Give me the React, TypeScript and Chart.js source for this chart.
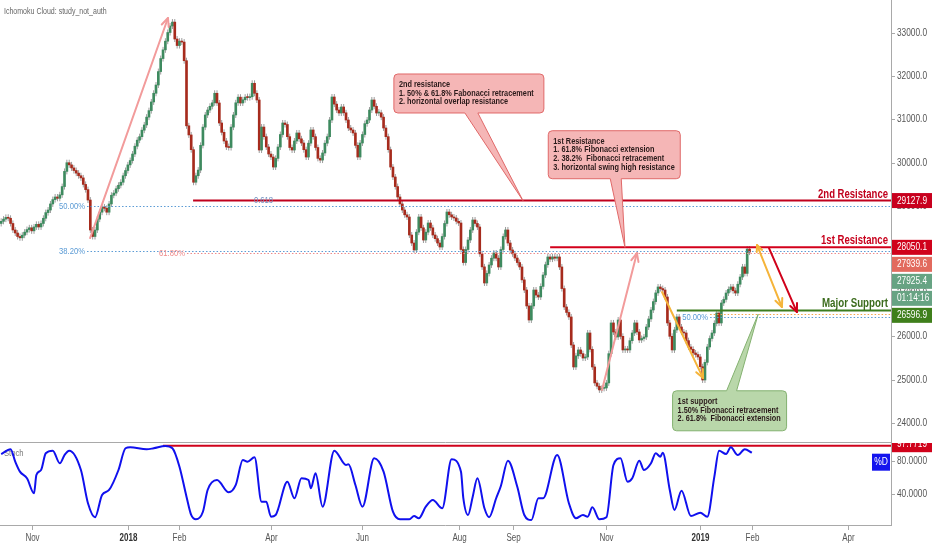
import React, { useEffect, useRef } from 'react';
import { Chart, registerables } from 'chart.js';

Chart.register(...registerables);

// ---------- data ----------
const firstOpen = 28600;
const closes = [
  28650, 28700, 28740, 28720, 28600, 28450, 28380, 28300, 28270, 28330,
  28400, 28460, 28500, 28430, 28520, 28580, 28520, 28600, 28720, 28850,
  28910, 29050, 29150, 29210, 29180, 29260, 29450, 29800, 30000, 29950,
  29880, 29820, 29760, 29700, 29650, 29500, 29380, 29140, 28450, 28300,
  28450, 28700, 28860, 28980, 28950, 28860, 29050, 29250, 29300, 29400,
  29480, 29550, 29700, 29820, 29950, 30050, 30200, 30380, 30520, 30600,
  30750, 30870, 31050, 31200, 31400, 31600, 31790, 32100, 32400, 32600,
  32800, 33000, 33150, 33240, 32850, 32700, 32800, 32780, 32350, 30850,
  30640, 30300, 29550, 29700, 29830, 30400, 30820, 31100, 31214, 31300,
  31380, 31600, 31376, 30915, 30700, 30500, 30362, 30350, 30820, 31100,
  31380, 31510, 31376, 31450, 31510, 31500, 31520, 31830, 31600, 31445,
  30293, 30822, 30600, 30362, 30200, 30131, 29901, 30100, 30362, 30650,
  30915, 30880, 30600, 30350, 30293, 30500, 30685, 30550, 30454, 30300,
  30131, 30450, 30754, 30600, 30350, 30100, 30061, 30224, 30450, 30600,
  30984, 31514, 31350, 31214, 31145, 31284, 31150, 30984, 30800, 30754,
  30685, 30400, 30131, 30454, 30650, 30900, 30984, 31214, 31445, 31300,
  31145, 31150, 31050, 30800, 30600, 30300, 29900, 29671, 29450, 29210,
  29050, 28910, 28800, 28749, 28334, 28150, 27989, 28400, 28749, 28500,
  28219, 28400, 28611, 28500, 28334, 28250, 28150, 28058, 28300, 28600,
  28864, 28800, 28750, 28726, 28650, 28611, 28000, 27700, 28000, 28219,
  28450, 28680, 28600, 28519, 27900, 27600, 27229, 27450, 27644, 27800,
  27920, 27800, 27598, 28000, 28300, 28450, 28150, 27989, 27900, 27804,
  27700, 27598, 27300, 27067, 26700, 26376, 26700, 27067, 26950, 26906,
  27150, 27413, 27650, 27828, 27780, 27828, 27800, 27828, 27598, 27100,
  26676, 26550, 26446, 25800, 25294, 25550, 25686, 25600, 25500, 25524,
  26077, 25700, 25294, 24926, 24850, 24765, 24800, 24811, 24926, 25600,
  26308, 26100, 25985, 26376, 26000, 25686, 25700, 25686, 25900, 26077,
  26308, 26100, 25916, 25950, 25985, 26215, 26400, 26607, 26800, 27000,
  27137, 27100, 27067, 26906, 26308, 26000, 25686, 26146, 26446, 26215,
  26100, 26077, 25900, 25755, 25700, 25616, 25580, 25524, 25300, 24994,
  25400, 25755, 25950, 26077, 26300, 26537, 26308, 26768, 26850, 26998,
  27080, 27137, 27050, 26998, 27200, 27367, 27598, 27450, 28010, 27940,
];

const stochIdx = [
  0, 4, 6, 8, 11, 14, 15, 17, 19, 22,
  25, 27, 29, 34, 37, 40, 43, 46, 50, 53,
  55, 62, 65, 70, 73, 76, 79, 81, 83, 86,
  88, 92, 97, 100, 103, 105, 108, 111, 113, 115,
  117, 122, 125, 128, 131, 132, 134, 137, 142, 147,
  148, 151, 154, 159, 163, 167, 170, 174, 176, 178,
  181, 184, 188, 192, 196, 197, 199, 201, 203, 206,
  208, 211, 213, 216, 220, 223, 226, 229, 231, 237,
  242, 245, 248, 250, 252, 255, 258, 261, 264, 267,
  269, 272, 274, 277, 279, 281, 282, 285, 287, 290,
  294, 298, 301, 304, 306, 309, 311, 314, 317, 320,
];
const stochVal = [
  87.8, 93.5, 78.6, 66.7, 58.8, 40.8, 62.7, 68.7, 88.7, 91.8,
  76.7, 86.6, 91.8, 68.7, 28.9, 12.1, 38.8, 44.8, 68.7, 94.7,
  95.9, 93.5, 94.7, 97.4, 94.7, 72.7, 36.8, 14.9, 9.7, 18.8,
  44.8, 56.7, 42, 50.8, 80.7, 78.6, 83.9, 30.8, 30.8, 12.9,
  14.9, 54.7, 34.9, 58.8, 56.7, 46.8, 64.8, 24.8, 91.8, 74.7,
  75.5, 50.8, 24.8, 82.7, 66.7, 18.8, 9.7, 9.7, 13.7, 10.9,
  24.8, 32.8, 22.9, 81.5, 66.7, 35, 14.9, 36.8, 58.8, 22.9,
  12.1, 34.9, 49.6, 79.8, 48.7, 14.9, 8.9, 34.9, 34.9, 86.6,
  28.9, 10.9, 14.9, 12.9, 24.1, 9.7, 12.1, 74.7, 82.7, 54.7,
  58.8, 79.8, 68.7, 76.7, 88.7, 84.6, 89.4, 44.8, 20.9, 43.9,
  13.7, 17.6, 12.9, 60.7, 91.8, 87.8, 95.9, 86.6, 93.5, 89.4,
];

const tickIdx = [13, 54, 76, 115, 154, 195, 218, 258, 298, 320, 361];
const tickLabels = ['Nov', '2018', 'Feb', 'Apr', 'Jun', 'Aug', 'Sep', 'Nov', '2019', 'Feb', 'Apr'];
const yearLabels = ['2018', '2019'];
const priceTicks = [24000, 25000, 26000, 27000, 28000, 29000, 30000, 31000, 32000, 33000];
const stochTicks = [40, 80];

const resistance2 = 29127.9;
const resistance1 = 28050.1;
const majorSupport = 26596.9;
const lastPrice = 27939.6;
const cloudPrice = 27925.4;
const countdown = '01:14:16';
const stochLevel = 97.7719;

// ---------- annotations (anchored in bar index / price) ----------
const fibLines = [
  { price: 29008, from: 36.6, color: '#5b9bd5', label: '50.00%' },
  { price: 27964, from: 36.6, color: '#5b9bd5', label: '38.20%' },
  { price: 27911, from: 79.2, color: '#ef8a8a', label: '61.80%' },
  { price: 26512, from: 302.2, color: '#f2a64a', label: '' },
  { price: 26443, from: 302.2, color: '#5b9bd5', label: '50.00%' },
];
const levels = [
  { price: resistance2, from: 81.8, color: '#c0001c', text: '2nd Resistance', textColor: '#c0001c', tw: 70 },
  { price: resistance1, from: 234, color: '#d3001b', text: '1st Resistance', textColor: '#c8001c', tw: 67 },
  { price: majorSupport, from: 288, color: '#3c7d1e', text: 'Major Support', textColor: '#3b6b1c', tw: 66 },
];
const arrows = [
  { from: [37.9, 28264], to: [71.1, 33334], color: '#f29b9b', both: false },
  { from: [256.1, 24761], to: [271, 27918], color: '#f29b9b', both: false },
  { from: [281.7, 27020], to: [299.2, 25038], color: '#f5b43a', both: false },
  { from: [322.2, 28103], to: [332.8, 26675], color: '#f5b43a', both: true },
  { from: [327.3, 28034], to: [339.2, 26559], color: '#d0021b', both: false },
];
const callouts = [
  {
    lines: ['2nd resistance', '1. 50% & 61.8% Fabonacci retracement', '2. horizontal overlap resistance'],
    at: [167.4, 32044], w: 150, h: 39, tip: [222.4, 29128], tail: [71, 84], side: 'bottom',
    fill: '#f5b6b6', stroke: '#e06868',
  },
  {
    lines: ['1st Resistance', '1. 61.8% Fibonacci extension', '2. 38.2%  Fibonacci retracement', '3. horizontal swing high resistance'],
    at: [233.2, 30737], w: 132, h: 48, tip: [265.9, 28050], tail: [62, 73], side: 'bottom',
    fill: '#f5b6b6', stroke: '#e06868',
  },
  {
    lines: ['1st support', '1.50% Fibonacci retracement', '2. 61.8%  Fibonacci extension'],
    at: [286.2, 24745], w: 114, h: 40, tip: [322.7, 26512], tail: [54, 64], side: 'top',
    fill: '#b9d7aa', stroke: '#84b170',
  },
];

const UP = '#3e8a5f';
const DOWN = '#a62b1d';
const FONT = '"Liberation Sans", Arial, sans-serif';

function drawText(ctx: any, s: string, x: number, y: number, size: number, color: string,
  align: string = 'left', sx = 0.82, weight = 'normal', maxW?: number, base = 'middle') {
  ctx.font = `${weight} ${size}px ${FONT}`;
  ctx.fillStyle = color;
  ctx.textAlign = align;
  ctx.textBaseline = base;
  const w = ctx.measureText(s).width;
  ctx.fillText(s, x, y, maxW ?? w * sx);
}

function seg(ctx: any, x1: number, y1: number, x2: number, y2: number) {
  ctx.beginPath();
  ctx.moveTo(x1, y1);
  ctx.lineTo(x2, y2);
  ctx.stroke();
}

function head(ctx: any, x1: number, y1: number, x2: number, y2: number, len = 9, ang = 0.42) {
  const a = Math.atan2(y2 - y1, x2 - x1);
  ctx.beginPath();
  ctx.moveTo(x2 - len * Math.cos(a - ang), y2 - len * Math.sin(a - ang));
  ctx.lineTo(x2, y2);
  ctx.lineTo(x2 - len * Math.cos(a + ang), y2 - len * Math.sin(a + ang));
  ctx.stroke();
}

const overlay = {
  id: 'overlay',
  beforeDatasetsDraw(chart: any) {
    const { ctx, scales } = chart;
    const xs = scales.x, y2 = scales.y2;
    drawText(ctx, 'Stoch', 4, y2.top + 12, 9, '#777', 'left', 0.85);
    ctx.save();
    ctx.strokeStyle = '#d0021b';
    ctx.lineWidth = 2;
    const ly = y2.getPixelForValue(stochLevel);
    seg(ctx, xs.getPixelForValue(69), ly, xs.right, ly);
    ctx.restore();
    const meta = chart.getDatasetMeta(0);
    ctx.save();
    ctx.strokeStyle = '#9c9c9c';
    ctx.lineWidth = 1;
    for (const el of meta.data) {
      const top = Math.min(el.y, el.base) - 3;
      const bot = Math.max(el.y, el.base) + 3;
      seg(ctx, el.x, top, el.x, bot);
    }
    ctx.restore();
  },
  afterDatasetsDraw(chart: any) {
    const { ctx, scales, width } = chart;
    const xs = scales.x, ys = scales.y, y2 = scales.y2;
    const X = (v: number) => xs.getPixelForValue(v);
    const P = (v: number) => ys.getPixelForValue(v);
    const R = xs.right;

    // fib dotted lines
    ctx.save();
    ctx.lineWidth = 1;
    for (const f of fibLines) {
      const y = Math.round(P(f.price)) + 0.5;
      ctx.strokeStyle = f.color;
      ctx.setLineDash([1.5, 2]);
      seg(ctx, X(f.from), y, R, y);
      ctx.setLineDash([]);
      if (f.label) drawText(ctx, f.label, X(f.from) - 2, y, 9, f.color, 'right', 0.85);
    }
    ctx.restore();

    // levels
    ctx.save();
    for (const l of levels) {
      const y = P(l.price);
      ctx.strokeStyle = l.color;
      ctx.lineWidth = 2;
      seg(ctx, X(l.from), y, R, y);
      drawText(ctx, l.text, R - 3, y - 3, 13, l.textColor, 'right', 1, 'bold', l.tw, 'alphabetic');
    }
    drawText(ctx, '0.618', X(111.8), P(resistance2), 9, '#6d8fc0', 'center', 0.85);
    ctx.restore();

    // arrows
    ctx.save();
    ctx.lineCap = 'round';
    ctx.lineJoin = 'round';
    for (const a of arrows) {
      const x1 = X(a.from[0]), y1 = P(a.from[1]), x2 = X(a.to[0]), yb = P(a.to[1]);
      ctx.strokeStyle = a.color;
      ctx.lineWidth = 2;
      seg(ctx, x1, y1, x2, yb);
      head(ctx, x1, y1, x2, yb);
      if (a.both) head(ctx, x2, yb, x1, y1, 7);
    }
    ctx.restore();

    // callouts
    for (const c of callouts) {
      const x = X(c.at[0]), y = P(c.at[1]), w = c.w, h = c.h, r = 4;
      const tx = X(c.tip[0]), ty = P(c.tip[1]);
      const b1 = x + c.tail[0], b2 = x + c.tail[1];
      ctx.save();
      ctx.beginPath();
      ctx.moveTo(x + r, y);
      if (c.side === 'top') {
        ctx.lineTo(b1, y);
        ctx.lineTo(tx, ty);
        ctx.lineTo(b2, y);
      }
      ctx.lineTo(x + w - r, y);
      ctx.arcTo(x + w, y, x + w, y + r, r);
      ctx.lineTo(x + w, y + h - r);
      ctx.arcTo(x + w, y + h, x + w - r, y + h, r);
      if (c.side === 'bottom') {
        ctx.lineTo(b2, y + h);
        ctx.lineTo(tx, ty);
        ctx.lineTo(b1, y + h);
      }
      ctx.lineTo(x + r, y + h);
      ctx.arcTo(x, y + h, x, y + h - r, r);
      ctx.lineTo(x, y + r);
      ctx.arcTo(x, y, x + r, y, r);
      ctx.closePath();
      ctx.fillStyle = c.fill;
      ctx.fill();
      ctx.strokeStyle = c.stroke;
      ctx.lineWidth = 1;
      ctx.stroke();
      c.lines.forEach((s, i) => {
        drawText(ctx, s, x + 5, y + 10.8 + i * 8.6, 8.5, '#2a1a1a', 'left', 0.86, 'bold');
      });
      ctx.restore();
    }

    // frame
    ctx.save();
    ctx.strokeStyle = '#a9a9a9';
    ctx.lineWidth = 1;
    seg(ctx, 0, Math.round(y2.top) + 0.5, R, Math.round(y2.top) + 0.5);
    seg(ctx, 0, Math.round(y2.bottom) - 0.5, R, Math.round(y2.bottom) - 0.5);
    seg(ctx, Math.round(R) + 0.5, 0, Math.round(R) + 0.5, y2.bottom);
    // x ticks
    tickIdx.forEach((t, i) => {
      const x = Math.round(X(t)) + 0.5;
      seg(ctx, x, y2.bottom, x, y2.bottom + 4);
      const yr = yearLabels.includes(tickLabels[i]);
      drawText(ctx, tickLabels[i], x, y2.bottom + 12.5, 10, yr ? '#333' : '#555', 'center', 0.8, yr ? 'bold' : 'normal');
    });
    // price ticks
    for (const p of priceTicks) {
      const y = Math.round(P(p)) + 0.5;
      seg(ctx, R, y, R + 4, y);
      drawText(ctx, p.toFixed(1), R + 6, y, 10, '#555', 'left', 0.83);
    }
    for (const s of stochTicks) {
      const y = Math.round(y2.getPixelForValue(s)) + 0.5;
      seg(ctx, R, y, R + 4, y);
      drawText(ctx, s.toFixed(4), R + 6, y, 10, '#555', 'left', 0.83);
    }
    ctx.restore();

    // price tags on the axis
    const tags = [
      { price: resistance2, text: resistance2.toFixed(1), bg: '#c8001e' },
      { price: resistance1, text: resistance1.toFixed(1), bg: '#d0021b' },
      { price: lastPrice, text: lastPrice.toFixed(1), bg: '#e26a5e' },
      { price: cloudPrice, text: cloudPrice.toFixed(1), bg: '#67a383' },
      { price: cloudPrice, text: countdown, bg: '#67a383' },
      { price: majorSupport, text: majorSupport.toFixed(1), bg: '#3f7f1b' },
    ];
    let prevBottom = -1e9;
    for (const t of tags) {
      let top = P(t.price) - 7.5;
      if (top < prevBottom + 2) top = prevBottom + 2;
      prevBottom = top + 15;
      ctx.fillStyle = t.bg;
      ctx.fillRect(R + 1, top, width - R - 1, 15);
      drawText(ctx, t.text, R + 6, top + 7.8, 10, '#fff', 'left', 0.83);
    }
    // stoch tags
    ctx.save();
    ctx.beginPath();
    ctx.rect(R + 1, y2.top + 1, width - R, y2.bottom - y2.top);
    ctx.clip();
    const sy = y2.getPixelForValue(stochLevel) - 1;
    ctx.fillStyle = '#d0021b';
    ctx.fillRect(R + 1, sy - 7.5, width - R - 1, 15);
    drawText(ctx, stochLevel.toFixed(4), R + 6, sy, 10, '#fff', 'left', 0.83);
    ctx.restore();
    const lastStoch = stochVal[stochVal.length - 1];
    const dy = y2.getPixelForValue(lastStoch) + 1;
    ctx.fillStyle = '#1414ee';
    ctx.fillRect(R - 19, dy, 18, 17);
    drawText(ctx, '%D', R - 10, dy + 8.5, 10, '#fff', 'center', 0.85);

    // header text
    drawText(ctx, 'Ichomoku Cloud: study_not_auth', 4, 12, 9, '#666', 'left', 0.78);
  },
};

export default function App() {
  const ref = useRef<HTMLCanvasElement | null>(null);
  useEffect(() => {
    if (!ref.current) return;
    const opens = closes.map((c, i) => (i === 0 ? firstOpen : closes[i - 1]));
    const candleData = closes.map((c, i) => ({ x: i, y: [opens[i], c] }));
    const candleColors = closes.map((c, i) => (c >= opens[i] ? UP : DOWN));
    const stochData = stochIdx.map((x, i) => ({ x, y: stochVal[i] }));
    const fixW = (s: any) => { s.width = 41; };
    const chart = new Chart(ref.current, {
      type: 'bar',
      data: {
        datasets: [
          {
            type: 'bar',
            label: 'Price',
            data: candleData as any,
            yAxisID: 'y',
            backgroundColor: candleColors,
            borderWidth: 0,
            barThickness: 2,
            minBarLength: 1,
            grouped: false,
            order: 2,
          } as any,
          {
            type: 'line',
            label: '%D',
            data: stochData as any,
            yAxisID: 'y2',
            borderColor: '#1010ee',
            borderWidth: 2,
            pointRadius: 0,
            cubicInterpolationMode: 'monotone',
            order: 1,
          } as any,
        ],
      },
      options: {
        responsive: false,
        animation: false,
        events: [],
        layout: { padding: 0 },
        plugins: { legend: { display: false }, tooltip: { enabled: false } },
        scales: {
          x: {
            type: 'linear', min: -0.5, max: 379.3, offset: false,
            grid: { display: false }, border: { display: false }, ticks: { display: false },
            afterFit: (s: any) => { s.height = 24; },
          },
          y: {
            type: 'linear', position: 'right', stack: 'r', stackWeight: 442,
            min: 23565, max: 33749,
            grid: { display: false }, border: { display: false }, ticks: { display: false },
            afterFit: fixW,
          },
          y2: {
            type: 'linear', position: 'right', stack: 'r', stackWeight: 84,
            min: 1.7, max: 102.2,
            grid: { display: false }, border: { display: false }, ticks: { display: false },
            afterFit: fixW,
          },
        } as any,
      },
      plugins: [overlay as any],
    });
    return () => chart.destroy();
  }, []);
  return (
    <div style={{ position: 'absolute', left: 0, top: 0, width: 932, height: 550, background: '#fff' }}>
      <canvas ref={ref} width={932} height={550} style={{ display: 'block' }} />
    </div>
  );
}
